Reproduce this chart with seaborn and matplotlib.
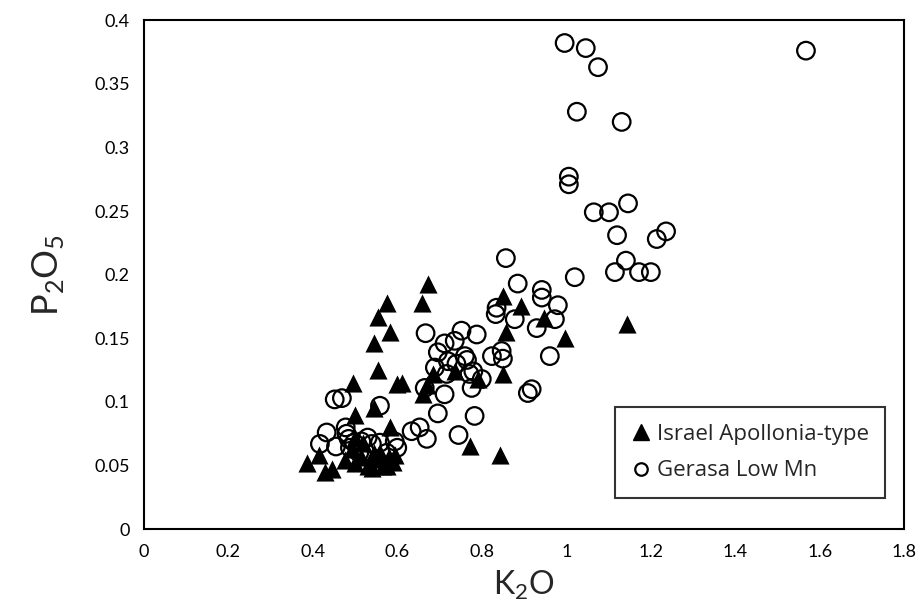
import matplotlib
matplotlib.use("Agg")
import matplotlib.pyplot as plt
import seaborn as sns
import pandas as pd

# Israel Apollonia-type (filled triangles)
israel_k2o = [0.672, 0.658, 0.575, 0.554, 0.582, 0.544, 0.554, 0.611, 0.600, 0.495,
              0.500, 0.545, 0.582, 0.660, 0.684, 0.736, 0.790, 0.850, 0.850, 0.892,
              0.947, 0.857, 0.996, 1.143, 0.772, 0.843, 0.670, 0.386, 0.416, 0.430,
              0.445, 0.476, 0.492, 0.500, 0.515, 0.530, 0.540, 0.548, 0.560, 0.566,
              0.575, 0.580, 0.590, 0.595, 0.520, 0.500, 0.545]
israel_p2o5 = [0.193, 0.178, 0.178, 0.167, 0.155, 0.146, 0.125, 0.115, 0.114, 0.115,
               0.090, 0.095, 0.080, 0.106, 0.122, 0.124, 0.118, 0.122, 0.183, 0.175,
               0.166, 0.155, 0.150, 0.161, 0.065, 0.058, 0.113, 0.052, 0.058, 0.045,
               0.047, 0.054, 0.063, 0.072, 0.057, 0.050, 0.048, 0.055, 0.060, 0.050,
               0.050, 0.057, 0.053, 0.058, 0.068, 0.052, 0.060]

# Gerasa Low Mn (open circles)
gerasa_k2o = [0.996, 1.046, 1.075, 1.025, 1.131, 1.006, 1.006, 1.065, 1.101, 1.146,
              1.120, 1.214, 1.236, 1.141, 1.115, 1.172, 1.200, 1.020, 1.567,
              0.857, 0.885, 0.942, 0.942, 0.980, 0.973, 0.835, 0.833, 0.878, 0.930,
              0.788, 0.961, 0.824, 0.847, 0.850, 0.909, 0.918, 0.783, 0.667, 0.752,
              0.712, 0.736, 0.696, 0.760, 0.765, 0.689, 0.717, 0.771, 0.780, 0.665,
              0.712, 0.776, 0.696, 0.745, 0.634, 0.653, 0.670, 0.720, 0.740, 0.800,
              0.452, 0.469, 0.559, 0.433, 0.417, 0.480, 0.498, 0.515, 0.540, 0.559,
              0.594, 0.600, 0.455, 0.488, 0.510, 0.575, 0.530, 0.485, 0.478]
gerasa_p2o5 = [0.382, 0.378, 0.363, 0.328, 0.320, 0.277, 0.271, 0.249, 0.249, 0.256,
               0.231, 0.228, 0.234, 0.211, 0.202, 0.202, 0.202, 0.198, 0.376,
               0.213, 0.193, 0.188, 0.182, 0.176, 0.165, 0.174, 0.169, 0.165, 0.158,
               0.153, 0.136, 0.136, 0.140, 0.134, 0.107, 0.110, 0.089, 0.154, 0.156,
               0.146, 0.148, 0.139, 0.136, 0.133, 0.127, 0.122, 0.122, 0.124, 0.111,
               0.106, 0.111, 0.091, 0.074, 0.077, 0.080, 0.071, 0.132, 0.130, 0.118,
               0.102, 0.103, 0.097, 0.076, 0.067, 0.075, 0.068, 0.069, 0.067, 0.068,
               0.069, 0.064, 0.065, 0.064, 0.060, 0.060, 0.072, 0.071, 0.080]

israel = pd.DataFrame({"K2O": israel_k2o, "P2O5": israel_p2o5})
gerasa = pd.DataFrame({"K2O": gerasa_k2o, "P2O5": gerasa_p2o5})

sns.set_style("white")
plt.rcParams["font.family"] = ["Lato", "DejaVu Sans"]

fig = plt.figure(figsize=(9.21, 6.09), dpi=100)
ax = fig.add_axes([0.156, 0.131, 0.826, 0.836])

sns.scatterplot(data=israel, x="K2O", y="P2O5", marker="^", s=170, color="black",
                edgecolor="black", linewidth=0, ax=ax, zorder=2)
sns.scatterplot(data=gerasa, x="K2O", y="P2O5", marker="o", s=160, facecolor="none",
                edgecolor="black", linewidth=1.6, ax=ax, zorder=3)

ax.set_xlim(0, 1.8)
ax.set_ylim(0, 0.4)
ax.set_xticks([0, 0.2, 0.4, 0.6, 0.8, 1.0, 1.2, 1.4, 1.6, 1.8])
ax.set_xticklabels(["0", "0.2", "0.4", "0.6", "0.8", "1", "1.2", "1.4", "1.6", "1.8"])
ax.set_yticks([0, 0.05, 0.1, 0.15, 0.2, 0.25, 0.3, 0.35, 0.4])
ax.set_yticklabels(["0", "0.05", "0.1", "0.15", "0.2", "0.25", "0.3", "0.35", "0.4"])
ax.tick_params(direction="in", length=5, width=1.3, labelsize=13, pad=10, colors="black")
ax.tick_params(axis="x", pad=11)
for sp in ax.spines.values():
    sp.set_visible(True)
    sp.set_color("black")
    sp.set_linewidth(1.5)

ax.set_xlabel(r"K$_\mathregular{2}$O", fontsize=23, labelpad=6)
ax.set_ylabel(r"P$_\mathregular{2}$O$_\mathregular{5}$", fontsize=26, labelpad=20)

h1 = plt.Line2D([], [], marker="^", color="black", linestyle="none", markersize=11)
h2 = plt.Line2D([], [], marker="o", markerfacecolor="none", markeredgecolor="black",
                markeredgewidth=1.6, linestyle="none", markersize=9)
leg = ax.legend([h1, h2], ["Israel Apollonia-type", "Gerasa Low Mn"],
                loc="lower right", bbox_to_anchor=(0.975, 0.061),
                prop={"family": ["Open Sans", "DejaVu Sans"], "size": 16},
                frameon=True, fancybox=False, edgecolor="black", handletextpad=0.25,
                handlelength=0.9, labelspacing=0.7, borderpad=0.75, borderaxespad=0)
leg.get_frame().set_linewidth(1.5)

fig.savefig("out.png", dpi=100)
